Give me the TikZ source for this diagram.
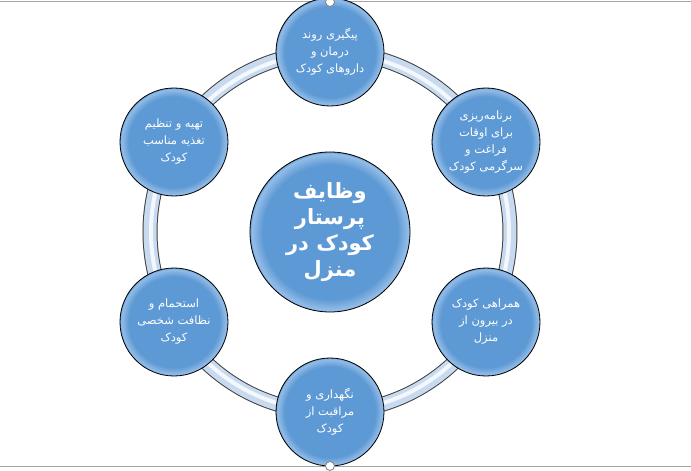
\documentclass[tikz,border=0pt]{standalone}
\usepackage{fontspec}
\usepackage{tikz}
\usepackage{xcolor}
\TeXXeTstate=1
\newfontfamily\arabicfont[Script=Arabic]{DejaVu Sans}
\newcommand{\fatext}[1]{{\arabicfont\beginR #1\endR}}
\definecolor{bubblemid}{RGB}{93,153,212}
\definecolor{bubblerim}{RGB}{150,190,232}
\definecolor{ringblue}{RGB}{200,218,240}
\pgfdeclareradialshading{bubble}{\pgfpoint{0bp}{0bp}}{color(0bp)=(bubblemid); color(21bp)=(bubblemid); color(24.5bp)=(bubblerim); color(25bp)=(bubblemid); color(50bp)=(bubblemid)}

\begin{document}
\begin{tikzpicture}[x=1pt,y=1pt]
\useasboundingbox (-330,-239) rectangle (361,232);
\draw[gray!70, line width=1pt] (-330,230) -- (361,230);
\draw[gray!70, line width=1pt] (-330,-234) -- (361,-234);

\draw[line width=15pt, black!75] (0,0) circle (180);
\draw[line width=13pt, ringblue] (0,0) circle (180);
\draw[line width=4pt, white, opacity=.8] (0,0) circle (179);

\begin{scope}[every node/.style={circle,draw=black,thick,shading=bubble,text=white,align=center,inner sep=0pt,minimum size=108pt,font=\fontsize{11.5}{17}\selectfont}]
\node[minimum size=160pt,font=\fontsize{21}{26}\bfseries] (0) at (0,0) {\fatext{وظایف}\\\fatext{پرستار}\\\fatext{کودک در}\\\fatext{منزل}};

\node (1) at (0,180) {\fatext{پیگیری روند}\\\fatext{درمان و}\\\fatext{داروهای کودک}};
\node (2) at (156,90) {\fatext{برنامه‌ریزی}\\\fatext{برای اوقات}\\\fatext{فراغت و}\\\fatext{سرگرمی کودک}};
\node (3) at (156,-90) {\fatext{همراهی کودک}\\\fatext{در بیرون از}\\\fatext{منزل}};
\node (4) at (0,-180) {\fatext{نگهداری و}\\\fatext{مراقبت از}\\\fatext{کودک}};
\node (5) at (-156,-90) {\fatext{استحمام و}\\\fatext{نظافت شخصی}\\\fatext{کودک}};
\node (6) at (-156,90) {\fatext{تهیه و تنظیم}\\\fatext{تغذیه مناسب}\\\fatext{کودک}};
\end{scope}

\draw[thick, gray, fill=white] (0,230) circle (4.5);
\draw[thick, gray, fill=white] (0,-234) circle (4.5);

\end{tikzpicture}
\end{document}
